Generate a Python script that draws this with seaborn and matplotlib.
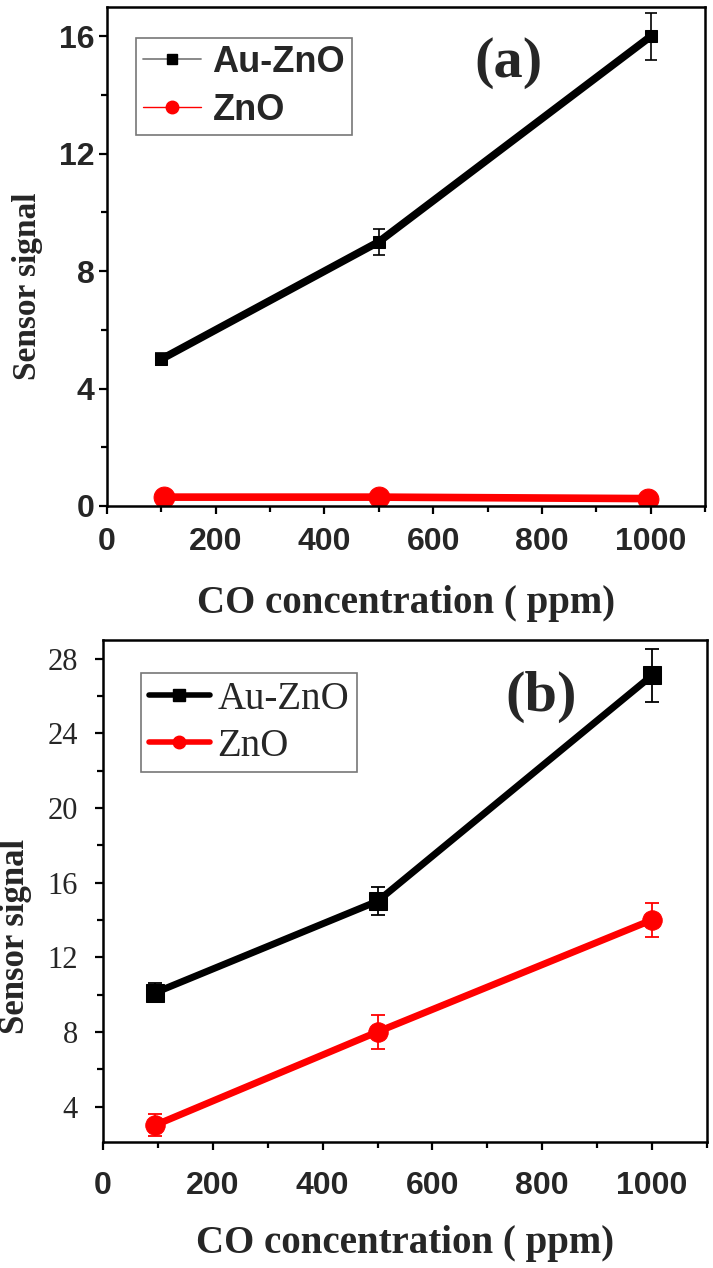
import numpy as np
import pandas as pd
import matplotlib
matplotlib.use("Agg")
import matplotlib.pyplot as plt
import seaborn as sns
from matplotlib.lines import Line2D
from matplotlib.ticker import MultipleLocator

# ---- data ----
series_names = ["Au-ZnO", "ZnO"]

a_x_au = [100, 500, 1000]
a_y_au = [5.0, 9.0, 16.0]
a_e_au = [0.2, 0.45, 0.8]
a_x_zn = [105, 500, 995]
a_y_zn = [0.3, 0.3, 0.25]

b_x_au = [95, 500, 1000]
b_y_au = [10.1, 15.0, 27.1]
b_e_au = [0.5, 0.75, 1.4]
b_x_zn = [95, 500, 1000]
b_y_zn = [3.0, 8.0, 14.0]
b_e_zn = [0.6, 0.9, 0.9]

x_ticks = [0, 200, 400, 600, 800, 1000]
a_y_ticks = [0, 4, 8, 12, 16]
b_y_ticks = [4, 8, 12, 16, 20, 24, 28]

sns.set_style("ticks")
plt.rcParams["font.family"] = ["Liberation Serif", "DejaVu Serif"]

fig = plt.figure(figsize=(7.13, 12.68), dpi=100)
ax1 = fig.add_axes([0.150, 0.601, 0.839, 0.3935])
ax2 = fig.add_axes([0.1445, 0.0994, 0.847, 0.3959])

sans = "Liberation Sans"
serif = "Liberation Serif"


def frame(ax):
    for s in ax.spines.values():
        s.set_color("black")
        s.set_linewidth(1.8)
    ax.tick_params(which="both", direction="out", top=False, right=False,
                   width=1.6, color="black")
    ax.tick_params(which="major", length=6)
    ax.tick_params(which="minor", length=4)
    ax.xaxis.set_minor_locator(MultipleLocator(100))


# ---- panel (a) ----
df_a = pd.concat([
    pd.DataFrame({"x": a_x_au, "y": a_y_au, "s": series_names[0]}),
    pd.DataFrame({"x": a_x_zn, "y": a_y_zn, "s": series_names[1]}),
])
sns.lineplot(data=df_a[df_a.s == "Au-ZnO"], x="x", y="y", ax=ax1, color="black",
             lw=5.5, marker="s", markersize=9, markeredgecolor="black", legend=False)
sns.lineplot(data=df_a[df_a.s == "ZnO"], x="x", y="y", ax=ax1, color="red",
             lw=5.5, marker="o", markersize=15, markeredgecolor="red", legend=False)
ax1.errorbar(a_x_au, a_y_au, yerr=a_e_au, fmt="none", ecolor="black",
             elinewidth=1.2, capsize=4, capthick=1.2)
ax1.set_xlim(0, 1100)
ax1.set_ylim(0, 17)
ax1.set_xticks(x_ticks)
ax1.set_yticks(a_y_ticks)
ax1.yaxis.set_minor_locator(MultipleLocator(2))
frame(ax1)
ax1.tick_params(axis="x", which="major", pad=9)
ax1.tick_params(axis="y", which="major", pad=3)
for lab in ax1.get_xticklabels() + ax1.get_yticklabels():
    lab.set_fontfamily(sans)
    lab.set_fontweight("bold")
    lab.set_fontsize(23)
ax1.set_xlabel("CO concentration ( ppm)", fontfamily=serif, fontweight="bold", fontsize=28)
ax1.set_ylabel("Sensor signal", fontfamily=serif, fontweight="bold", fontsize=24)
ax1.xaxis.set_label_coords(0.5, -0.158)
ax1.yaxis.set_label_coords(-0.107, 0.44)
ax1.text(0.672, 0.888, "(a)", transform=ax1.transAxes, ha="center", va="center",
         fontfamily=serif, fontweight="bold", fontsize=42)
h1 = [Line2D([], [], color="gray", lw=1.3, marker="s", markersize=7,
             markerfacecolor="black", markeredgecolor="black"),
      Line2D([], [], color="red", lw=1.0, marker="o", markersize=9,
             markerfacecolor="red", markeredgecolor="red")]
leg1 = ax1.legend(h1, series_names, loc="upper left", bbox_to_anchor=(0.048, 0.938),
                  borderaxespad=0,
                  prop={"family": sans, "weight": "bold", "size": 26},
                  frameon=True, fancybox=False, edgecolor="#555555", handlelength=1.6,
                  handletextpad=0.33, labelspacing=0.35, borderpad=0.2)
leg1.get_frame().set_linewidth(1.2)

# ---- panel (b) ----
df_b = pd.concat([
    pd.DataFrame({"x": b_x_au, "y": b_y_au, "s": series_names[0]}),
    pd.DataFrame({"x": b_x_zn, "y": b_y_zn, "s": series_names[1]}),
])
sns.lineplot(data=df_b[df_b.s == "Au-ZnO"], x="x", y="y", ax=ax2, color="black",
             lw=5, marker="s", markersize=13, markeredgecolor="black", legend=False)
sns.lineplot(data=df_b[df_b.s == "ZnO"], x="x", y="y", ax=ax2, color="red",
             lw=5, marker="o", markersize=14, markeredgecolor="red", legend=False)
ax2.errorbar(b_x_au, b_y_au, yerr=b_e_au, fmt="none", ecolor="black",
             elinewidth=1.3, capsize=5, capthick=1.3)
ax2.errorbar(b_x_zn, b_y_zn, yerr=b_e_zn, fmt="none", ecolor="red",
             elinewidth=1.3, capsize=5, capthick=1.3)
ax2.set_xlim(0, 1100)
ax2.set_ylim(2.1, 29)
ax2.set_xticks(x_ticks)
ax2.set_yticks(b_y_ticks)
ax2.yaxis.set_minor_locator(MultipleLocator(2))
frame(ax2)
ax2.tick_params(axis="x", which="major", pad=15)
ax2.tick_params(axis="y", which="major", pad=12)
for lab in ax2.get_xticklabels():
    lab.set_fontfamily(sans)
    lab.set_fontweight("bold")
    lab.set_fontsize(23)
for lab in ax2.get_yticklabels():
    lab.set_fontfamily(serif)
    lab.set_fontsize(22)
ax2.set_xlabel("CO concentration ( ppm)", fontfamily=serif, fontweight="bold", fontsize=28)
ax2.set_ylabel("Sensor signal", fontfamily=serif, fontweight="bold", fontsize=25)
ax2.xaxis.set_label_coords(0.5, -0.165)
ax2.yaxis.set_label_coords(-0.118, 0.41)
ax2.text(0.725, 0.886, "(b)", transform=ax2.transAxes, ha="center", va="center",
         fontfamily=serif, fontweight="bold", fontsize=42)
h2 = [Line2D([], [], color="black", lw=4, marker="s", markersize=9),
      Line2D([], [], color="red", lw=4, marker="o", markersize=9)]
leg2 = ax2.legend(h2, series_names, loc="upper left", bbox_to_anchor=(0.063, 0.934),
                  borderaxespad=0,
                  prop={"family": serif, "size": 28},
                  frameon=True, fancybox=False, edgecolor="#555555", handlelength=1.57,
                  handletextpad=0.19, labelspacing=0.25, borderpad=0.2)
leg2.get_frame().set_linewidth(1.2)

fig.savefig("out.png", dpi=100, facecolor="white")
